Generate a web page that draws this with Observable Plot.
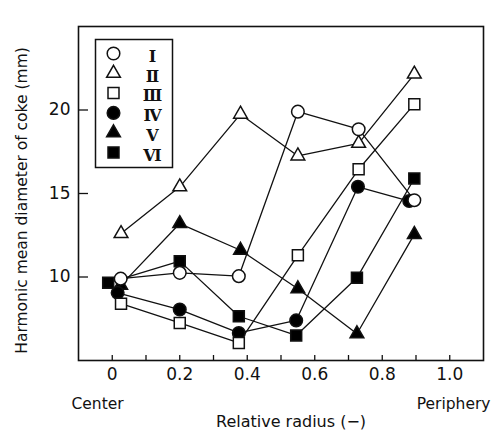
<!DOCTYPE html>
<html>
<head>
<meta charset="utf-8">
<script src="https://cdn.jsdelivr.net/npm/d3@7"></script>
<script src="https://cdn.jsdelivr.net/npm/@observablehq/plot@0.6"></script>
<style>
  html, body { margin: 0; padding: 0; background: #fff; }
  #chart svg { display: block; }
</style>
</head>
<body>
<div id="chart"></div>
<script>
// Harmonic mean coke diameter across the relative radius, runs I–VI
const seriesNames = ["Ⅰ", "Ⅱ", "Ⅲ", "Ⅳ", "Ⅴ", "Ⅵ"];

const radiusI   = [0.025, 0.2, 0.375, 0.55, 0.73, 0.895];
const radiusII  = [0.026, 0.2, 0.38, 0.55, 0.73, 0.895];
const radiusIII = [0.026, 0.2, 0.375, 0.55, 0.73, 0.895];
const radiusIV  = [0.016, 0.2, 0.375, 0.545, 0.728, 0.88];
const radiusV   = [0.025, 0.2, 0.38, 0.55, 0.725, 0.895];
const radiusVI  = [-0.012, 0.2, 0.375, 0.545, 0.725, 0.895];

const diameterI   = [9.9, 10.25, 10.05, 19.9, 18.85, 14.6];
const diameterII  = [12.6, 15.4, 19.75, 17.25, 18.0, 22.15];
const diameterIII = [8.4, 7.25, 6.05, 11.3, 16.45, 20.35];
const diameterIV  = [9.05, 8.05, 6.65, 7.4, 15.4, 14.55];
const diameterV   = [9.5, 13.2, 11.6, 9.3, 6.6, 12.55];
const diameterVI  = [9.65, 10.95, 7.65, 6.5, 9.95, 15.9];

const xTickValues = [0, 0.2, 0.4, 0.6, 0.8, 1.0];
const xTickLabels = ["0", "0.2", "0.4", "0.6", "0.8", "1.0"];
const xMinorTicks = [0, 0.1, 0.2, 0.3, 0.4, 0.5, 0.6, 0.7, 0.8, 0.9, 1.0];
const yTickValues = [10, 15, 20];

const radii = [radiusI, radiusII, radiusIII, radiusIV, radiusV, radiusVI];
const diameters = [diameterI, diameterII, diameterIII, diameterIV, diameterV, diameterVI];

// marker style per run: open symbols for I–III, filled for IV–VI
const markerStyle = [
  {symbol: "circle",   fill: "white", r: 6.3},
  {symbol: "triangle", fill: "white", r: 5.1},
  {symbol: "square",   fill: "white", r: 6.2},
  {symbol: "circle",   fill: "black", r: 6.3},
  {symbol: "triangle", fill: "black", r: 5.1},
  {symbol: "square",   fill: "black", r: 6.2}
];

const rows = seriesNames.flatMap((name, s) =>
  radii[s].map((x, i) => ({series: name, x, y: diameters[s][i]}))
);

const font = "'DejaVu Sans', sans-serif";
const ink = "#111";

// draw order: filled runs first, open circles (I) on top
const drawOrder = [5, 4, 3, 2, 1, 0];

const legendRowStep = 19.8;

const marks = [
  Plot.frame({stroke: ink, strokeWidth: 1.6}),
  // inward minor ticks on the x axis and inward ticks on the y axis
  Plot.tickX(xMinorTicks, {x: d => d, insetTop: 329, stroke: ink, strokeWidth: 1.3}),
  Plot.tickY(yTickValues, {y: d => d, insetRight: 395, stroke: ink, strokeWidth: 1.3}),
  Plot.axisX(xTickValues, {
    tickSize: 0, tickPadding: 7, fontSize: 17, fill: ink,
    tickFormat: d => xTickLabels[xTickValues.indexOf(d)], label: null,
    style: "letter-spacing:0.8px"
  }),
  Plot.axisY(yTickValues, {
    tickSize: 0, tickPadding: 8, fontSize: 17, fill: ink, label: null,
    style: "letter-spacing:0.8px"
  }),
  Plot.line(rows, {x: "x", y: "y", z: "series", stroke: ink, strokeWidth: 1.3}),
  ...drawOrder.map(s => Plot.dot(rows.filter(d => d.series === seriesNames[s]), {
    x: "x", y: "y",
    symbol: markerStyle[s].symbol, r: markerStyle[s].r,
    fill: markerStyle[s].fill, stroke: ink, strokeWidth: 1.5
  })),
  // legend box in the upper-left corner of the frame
  Plot.frame({insetLeft: 17, insetTop: 13, insetRight: 311, insetBottom: 193, stroke: ink, strokeWidth: 1.5}),
  ...seriesNames.flatMap((name, s) => [
    Plot.dot([name], {
      frameAnchor: "top-left", dx: 35, dy: 27 + legendRowStep * s,
      symbol: markerStyle[s].symbol, r: markerStyle[s].r,
      fill: markerStyle[s].fill, stroke: ink, strokeWidth: 1.5
    }),
    Plot.text([name], {
      frameAnchor: "top-left", dx: 74, dy: 24 + legendRowStep * s,
      textAnchor: "middle", text: d => d, fontSize: 16, fontWeight: "bold",
      fontFamily: "'DejaVu Serif', serif", fill: ink
    })
  ]),
  // axis captions
  Plot.text(["Harmonic mean diameter of coke (mm)"], {
    frameAnchor: "left", dx: -56, dy: 7, rotate: -90, textAnchor: "middle",
    text: d => d, fontSize: 15.5, fill: ink,
    style: "word-spacing:5px;letter-spacing:1.3px"
  }),
  Plot.text(["Center"], {
    frameAnchor: "bottom-left", dx: -7, dy: 48, textAnchor: "start",
    text: d => d, fontSize: 15.5, fill: ink, style: "letter-spacing:0.5px"
  }),
  Plot.text(["Periphery"], {
    frameAnchor: "bottom-right", dx: 7, dy: 48, textAnchor: "end",
    text: d => d, fontSize: 15.5, fill: ink, style: "letter-spacing:1px"
  }),
  Plot.text(["Relative radius (\u2212)"], {
    frameAnchor: "bottom", dx: 10, dy: 66, textAnchor: "middle", text: d => d,
    fontSize: 16, fill: ink, style: "word-spacing:9px;letter-spacing:1.5px"
  })
];

const chart = Plot.plot({
  width: 493,
  height: 444,
  marginLeft: 78,
  marginTop: 26,
  marginRight: 10,
  marginBottom: 84,
  style: {fontFamily: font, background: "white", color: ink, overflow: "visible"},
  x: {domain: [-0.1, 1.1]},
  y: {domain: [5, 25]},
  marks
});

document.getElementById("chart").append(chart);
</script>
</body>
</html>
